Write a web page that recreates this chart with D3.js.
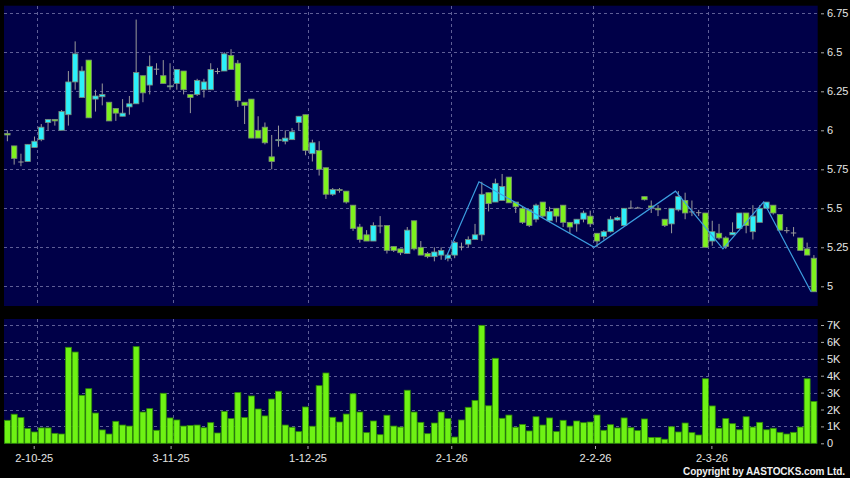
<!DOCTYPE html>
<html><head><meta charset="utf-8">
<script src="https://cdn.jsdelivr.net/npm/d3@7/dist/d3.min.js"></script>
<style>
html,body{margin:0;padding:0;background:#000;}
svg{display:block;font-family:"Liberation Sans",Arial,sans-serif;}
</style></head>
<body>
<svg id="chart" width="850" height="478"></svg>
<script>
// ---------- DATA ----------
const opens = [5.98,5.90,5.80,5.80,5.89,5.94,6.05,6.07,6.00,6.10,
6.31,6.21,6.45,6.20,6.215,6.18,6.14,6.09,6.15,6.17,
6.35,6.29,6.395,6.35,6.28,6.30,6.38,6.23,6.23,6.26,
6.26,6.38,6.38,6.48,6.43,6.18,6.20,6.00,6.02,5.83,
5.935,5.93,5.94,6.05,6.10,5.85,5.87,5.76,5.59,5.62,
5.61,5.52,5.38,5.33,5.29,5.39,5.39,5.255,5.24,5.21,
5.42,5.25,5.21,5.19,5.20,5.18,5.20,5.255,5.27,5.30,
5.33,5.60,5.54,5.55,5.70,5.54,5.50,5.49,5.43,5.54,
5.42,5.50,5.52,5.41,5.40,5.43,5.45,5.34,5.32,5.35,
5.425,5.39,5.505,5.505,5.575,5.515,5.50,5.43,5.40,5.49,
5.55,5.48,5.475,5.47,5.29,5.34,5.31,5.33,5.37,5.47,
5.35,5.41,5.50,5.52,5.46,5.36,5.345,5.31,5.24,5.18];
const highs = [6.00,5.90,5.85,5.91,5.96,6.04,6.07,6.07,6.13,6.38,
6.57,6.41,6.45,6.26,6.30,6.18,6.14,6.20,6.22,6.71,
6.35,6.48,6.43,6.45,6.43,6.39,6.38,6.23,6.33,6.33,
6.43,6.40,6.50,6.52,6.45,6.18,6.20,6.09,6.05,5.97,
6.03,6.00,6.015,6.09,6.10,5.94,5.93,5.76,5.63,5.63,
5.61,5.52,5.40,5.36,5.41,5.45,5.39,5.255,5.24,5.38,
5.42,5.29,5.22,5.25,5.25,5.21,5.29,5.28,5.32,5.40,
5.67,5.60,5.69,5.72,5.70,5.54,5.51,5.49,5.53,5.54,
5.51,5.50,5.52,5.41,5.43,5.485,5.485,5.34,5.36,5.45,
5.45,5.50,5.55,5.51,5.575,5.55,5.52,5.43,5.50,5.61,
5.60,5.55,5.49,5.47,5.42,5.40,5.32,5.41,5.47,5.47,
5.52,5.52,5.54,5.52,5.46,5.38,5.38,5.31,5.28,5.20];
const lows = [5.93,5.78,5.77,5.80,5.89,5.93,6.00,6.03,6.00,6.03,
6.26,6.21,6.08,6.12,6.16,6.06,6.06,6.09,6.10,6.17,
6.18,6.23,6.355,6.30,6.26,6.26,6.23,6.11,6.22,6.21,
6.26,6.36,6.38,6.39,6.15,6.04,5.95,5.95,5.91,5.75,
5.895,5.91,5.94,6.00,5.84,5.80,5.71,5.56,5.58,5.60,
5.53,5.355,5.28,5.29,5.29,5.34,5.21,5.22,5.20,5.21,
5.23,5.20,5.18,5.16,5.17,5.16,5.18,5.23,5.25,5.30,
5.29,5.48,5.54,5.55,5.535,5.47,5.40,5.38,5.41,5.44,
5.41,5.41,5.38,5.34,5.35,5.41,5.38,5.25,5.30,5.345,
5.42,5.39,5.50,5.50,5.55,5.47,5.45,5.38,5.34,5.48,
5.43,5.45,5.45,5.25,5.26,5.30,5.24,5.33,5.37,5.34,
5.30,5.41,5.50,5.46,5.36,5.34,5.32,5.23,5.20,4.965];
const closes = [5.97,5.82,5.80,5.91,5.93,6.02,6.07,6.06,6.12,6.31,
6.49,6.38,6.08,6.22,6.23,6.06,6.11,6.11,6.17,6.37,
6.24,6.41,6.395,6.30,6.285,6.39,6.26,6.21,6.32,6.31,
6.39,6.38,6.49,6.39,6.19,6.16,5.95,5.95,5.92,5.80,
5.94,5.95,5.99,6.09,5.87,5.92,5.75,5.59,5.62,5.615,
5.54,5.37,5.30,5.29,5.39,5.39,5.23,5.23,5.215,5.36,
5.24,5.20,5.19,5.22,5.23,5.20,5.28,5.255,5.30,5.33,
5.59,5.53,5.66,5.64,5.535,5.51,5.41,5.39,5.52,5.45,
5.48,5.45,5.41,5.38,5.43,5.47,5.40,5.29,5.35,5.43,
5.44,5.50,5.505,5.505,5.555,5.505,5.49,5.39,5.50,5.575,
5.47,5.48,5.475,5.25,5.35,5.31,5.255,5.345,5.47,5.39,
5.45,5.50,5.54,5.47,5.36,5.36,5.345,5.23,5.20,4.965];
// volume in thousands
const volumes = [1.36,1.72,1.52,0.87,0.67,0.91,0.91,0.59,0.55,5.68,
5.40,2.84,3.23,1.79,0.79,0.55,1.30,1.08,1.02,5.72,
1.85,2.05,0.77,2.96,1.50,1.38,1.02,1.06,1.08,0.92,
1.22,0.61,1.89,1.46,3.00,1.52,2.80,2.03,1.62,2.62,
3.08,1.08,0.95,0.69,2.15,1.01,3.41,4.16,1.54,1.26,
1.73,2.93,1.85,0.63,1.32,0.51,1.66,1.02,0.96,3.14,
1.85,1.24,0.57,1.20,1.85,1.46,0.37,1.38,2.13,2.54,
6.98,2.22,5.03,1.48,1.67,0.95,1.12,0.73,1.57,1.08,
1.50,0.69,1.36,1.02,1.32,1.22,1.26,1.67,0.77,1.10,
0.91,1.50,0.92,0.75,1.44,0.35,0.35,0.24,0.98,0.67,
1.20,0.63,0.49,3.82,2.21,0.89,1.46,1.16,0.80,1.57,
0.96,1.24,0.80,0.89,0.65,0.55,0.65,0.96,3.82,2.48];
// zigzag turning points (candle index, price)
const zigIndex = [65,70,87,99,106,112,119];
const zigValue = [5.17,5.67,5.25,5.61,5.24,5.54,4.965];
// date axis
const dateTickIndex = [4,24,44,65,86,103];
const dateTickLabels = ["2-10-25","3-11-25","1-12-25","2-1-26","2-2-26","2-3-26"];
const priceTicks = [5,5.25,5.5,5.75,6,6.25,6.5,6.75];
const volumeTicks = [0,1,2,3,4,5,6,7];
const volumeTickLabels = ["0","1K","2K","3K","4K","5K","6K","7K"];

// ---------- LAYOUT ----------
const n = closes.length;
const svg = d3.select("#chart");
const panelL = 4, panelR = 817.7;
const pTop = 5.7, pBot = 306;
const vTop = 319, vBot = 443.5;

const x = d3.scaleLinear().domain([0, n - 1]).range([7.39, 813.9]);
const xAxisScale = d3.scaleLinear().domain([0, n - 1]).range([6.32, 820.9]);
const yP = d3.scaleLinear().domain([5, 6.75]).range([286.3, 13.3]);
const yV = d3.scaleLinear().domain([0, 7]).range([443.3, 325]);

const NAVY = "#000048", GRID = "#5e5e96";
const CYAN = "#2cf0fa", GREEN = "#7ef21e", VOL = "#6ef214";

svg.append("rect").attr("width", 850).attr("height", 478).attr("fill", "#000");
svg.append("rect").attr("x", panelL).attr("y", pTop).attr("width", panelR - panelL).attr("height", pBot - pTop).attr("fill", NAVY);
svg.append("rect").attr("x", panelL).attr("y", vTop).attr("width", panelR - panelL).attr("height", vBot - vTop).attr("fill", NAVY);

// grid
const gridG = svg.append("g").attr("stroke", GRID).attr("stroke-width", 1).attr("stroke-dasharray", "3,3").attr("shape-rendering", "crispEdges");
gridG.selectAll(".hp").data(priceTicks).join("line")
  .attr("x1", panelL).attr("x2", panelR)
  .attr("y1", d => Math.round(yP(d)) + 0.5).attr("y2", d => Math.round(yP(d)) + 0.5);
gridG.selectAll(".hv").data(volumeTicks.slice(1)).join("line")
  .attr("x1", panelL).attr("x2", panelR)
  .attr("y1", d => Math.round(yV(d)) + 0.5).attr("y2", d => Math.round(yV(d)) + 0.5);
gridG.selectAll(".vp").data(dateTickIndex).join("line")
  .attr("x1", d => Math.round(x(d + 0.41)) + 0.5).attr("x2", d => Math.round(x(d + 0.41)) + 0.5)
  .attr("y1", pTop).attr("y2", pBot);
gridG.selectAll(".vv").data(dateTickIndex).join("line")
  .attr("x1", d => Math.round(x(d + 0.41)) + 0.5).attr("x2", d => Math.round(x(d + 0.41)) + 0.5)
  .attr("y1", vTop).attr("y2", vBot);

// candles
const idx = d3.range(n);
const bodyW = 5.4;
const cg = svg.append("g");
cg.selectAll(".wick").data(idx).join("line")
  .attr("x1", i => x(i)).attr("x2", i => x(i))
  .attr("y1", i => yP(highs[i])).attr("y2", i => yP(lows[i]))
  .attr("stroke", "#9a9a9a").attr("stroke-width", 1);
cg.selectAll(".body").data(idx).join("rect")
  .attr("x", i => x(i) - bodyW / 2)
  .attr("width", bodyW)
  .attr("y", i => yP(Math.max(opens[i], closes[i])))
  .attr("height", i => Math.max(1, Math.abs(yP(opens[i]) - yP(closes[i]))))
  .attr("fill", i => Math.abs(opens[i] - closes[i]) < 0.002 ? "#9a9a9a" : (closes[i] > opens[i] ? CYAN : GREEN))
  .attr("stroke", i => Math.abs(opens[i] - closes[i]) < 0.002 ? "none" : "#7a8a7a")
  .attr("stroke-width", 0.8);

// zigzag line
const zz = zigIndex.map((d, k) => [d, zigValue[k]]);
svg.append("path").datum(zz)
  .attr("d", d3.line().x(d => x(d[0] - 0.42)).y(d => yP(d[1])))
  .attr("fill", "none").attr("stroke", "#3c9ee0").attr("stroke-width", 1.2);

// volume bars
const volW = 6;
svg.append("g").selectAll("rect").data(idx).join("rect")
  .attr("x", i => x(i) - volW / 2)
  .attr("width", volW)
  .attr("y", i => yV(volumes[i]))
  .attr("height", i => yV(0) - yV(volumes[i]))
  .attr("fill", VOL).attr("stroke", "#2e8a06").attr("stroke-width", 0.8);

// axes
function styleAxis(g) {
  g.select(".domain").remove();
  g.selectAll(".tick line").attr("stroke", "#aaaaaa");
  g.selectAll(".tick text").attr("fill", "#e6e6e6").attr("font-size", "11px")
    .attr("font-family", "'Liberation Sans', Arial, sans-serif");
}
svg.append("g").attr("transform", "translate(821,0)")
  .call(d3.axisRight(yP).tickValues(priceTicks).tickFormat(d => String(d)).tickSize(3).tickPadding(3))
  .call(styleAxis);
svg.append("g").attr("transform", "translate(821,0)")
  .call(d3.axisRight(yV).tickValues(volumeTicks).tickFormat((d, k) => volumeTickLabels[k]).tickSize(3).tickPadding(3))
  .call(styleAxis);
svg.append("g").attr("transform", "translate(0,446)")
  .call(d3.axisBottom(xAxisScale).tickValues(dateTickIndex).tickFormat((d, k) => dateTickLabels[k]).tickSize(3).tickPadding(5))
  .call(styleAxis);

svg.append("text").attr("x", 845).attr("y", 475).attr("text-anchor", "end")
  .attr("fill", "#f0f0f0").attr("font-size", "10px").attr("font-weight", "bold")
  .attr("textLength", 162).attr("lengthAdjust", "spacing")
  .text("Copyright by AASTOCKS.com Ltd.");
</script>
</body></html>
